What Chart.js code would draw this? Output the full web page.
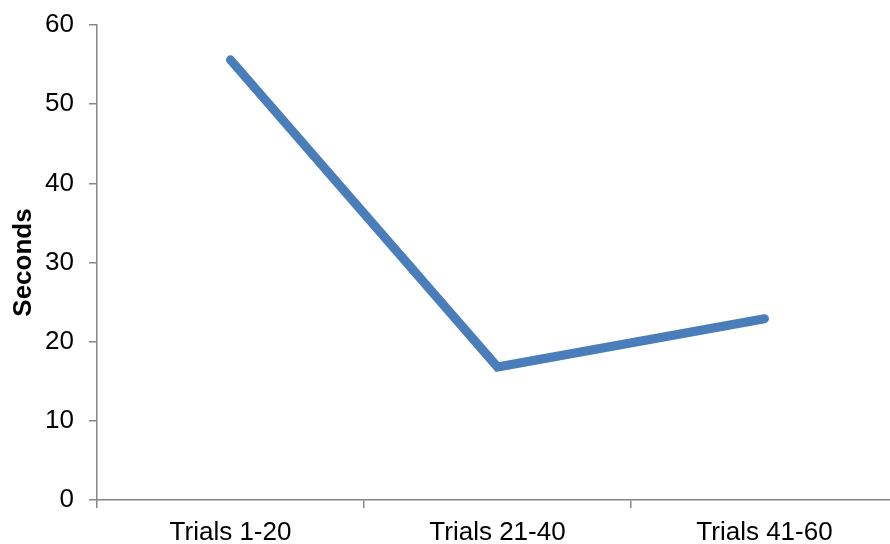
<!DOCTYPE html>
<html>
<head>
<meta charset="utf-8">
<script src="https://cdn.jsdelivr.net/npm/chart.js@4/dist/chart.umd.min.js"></script>
<style>
  html, body { margin: 0; padding: 0; background: #ffffff; overflow: hidden; }
  #wrap { width: 890px; height: 544px; overflow: hidden; position: relative; }
  canvas { display: block; }
</style>
</head>
<body>
<div id="wrap"><canvas id="c" width="900" height="544"></canvas></div>
<script>
const categories = ["Trials 1-20", "Trials 21-40", "Trials 41-60"];
const seconds = [55.6, 16.8, 22.9];
const yTicks = [0, 10, 20, 30, 40, 50, 60];
const yTitle = "Seconds";

const axisColor = "#868686";
const font = { family: "'Liberation Sans', Arial, sans-serif", size: 26 };

new Chart(document.getElementById("c"), {
  type: "line",
  data: {
    labels: categories,
    datasets: [{
      data: seconds,
      borderColor: "#4A7EBB",
      borderWidth: 9,
      borderCapStyle: "round",
      borderJoinStyle: "miter",
      pointRadius: 0,
      pointHoverRadius: 0,
      tension: 0,
      fill: false
    }]
  },
  options: {
    responsive: false,
    animation: false,
    events: [],
    layout: { padding: { top: 25, right: 2, left: 0, bottom: 0 } },
    plugins: { legend: { display: false }, tooltip: { enabled: false } },
    scales: {
      x: {
        type: "category",
        offset: true,
        grid: { display: true, drawOnChartArea: false, drawTicks: true, tickLength: 8, color: axisColor, lineWidth: 1.5, offset: true },
        border: { display: true, color: axisColor, width: 1.5 },
        ticks: { color: "#000", font: font, padding: 9, maxRotation: 0, autoSkip: false },
        afterFit: (s) => { s.height = 44; }
      },
      y: {
        min: 0,
        max: 60,
        afterBuildTicks: (s) => { s.ticks = yTicks.map(v => ({ value: v })); },
        grid: { display: true, drawOnChartArea: false, drawTicks: true, tickLength: 8, color: axisColor, lineWidth: 1.5 },
        border: { display: true, color: axisColor, width: 1.5 },
        ticks: { color: "#000", font: font, padding: 15 },
        title: { display: true, text: yTitle, color: "#000", font: { family: font.family, size: 26, weight: "bold" }, padding: { top: 8, bottom: 0 } },
        afterFit: (s) => { s.width = 97; s.paddingTop = 15; s.paddingBottom = 15; }
      }
    }
  }
});
</script>
</body>
</html>
